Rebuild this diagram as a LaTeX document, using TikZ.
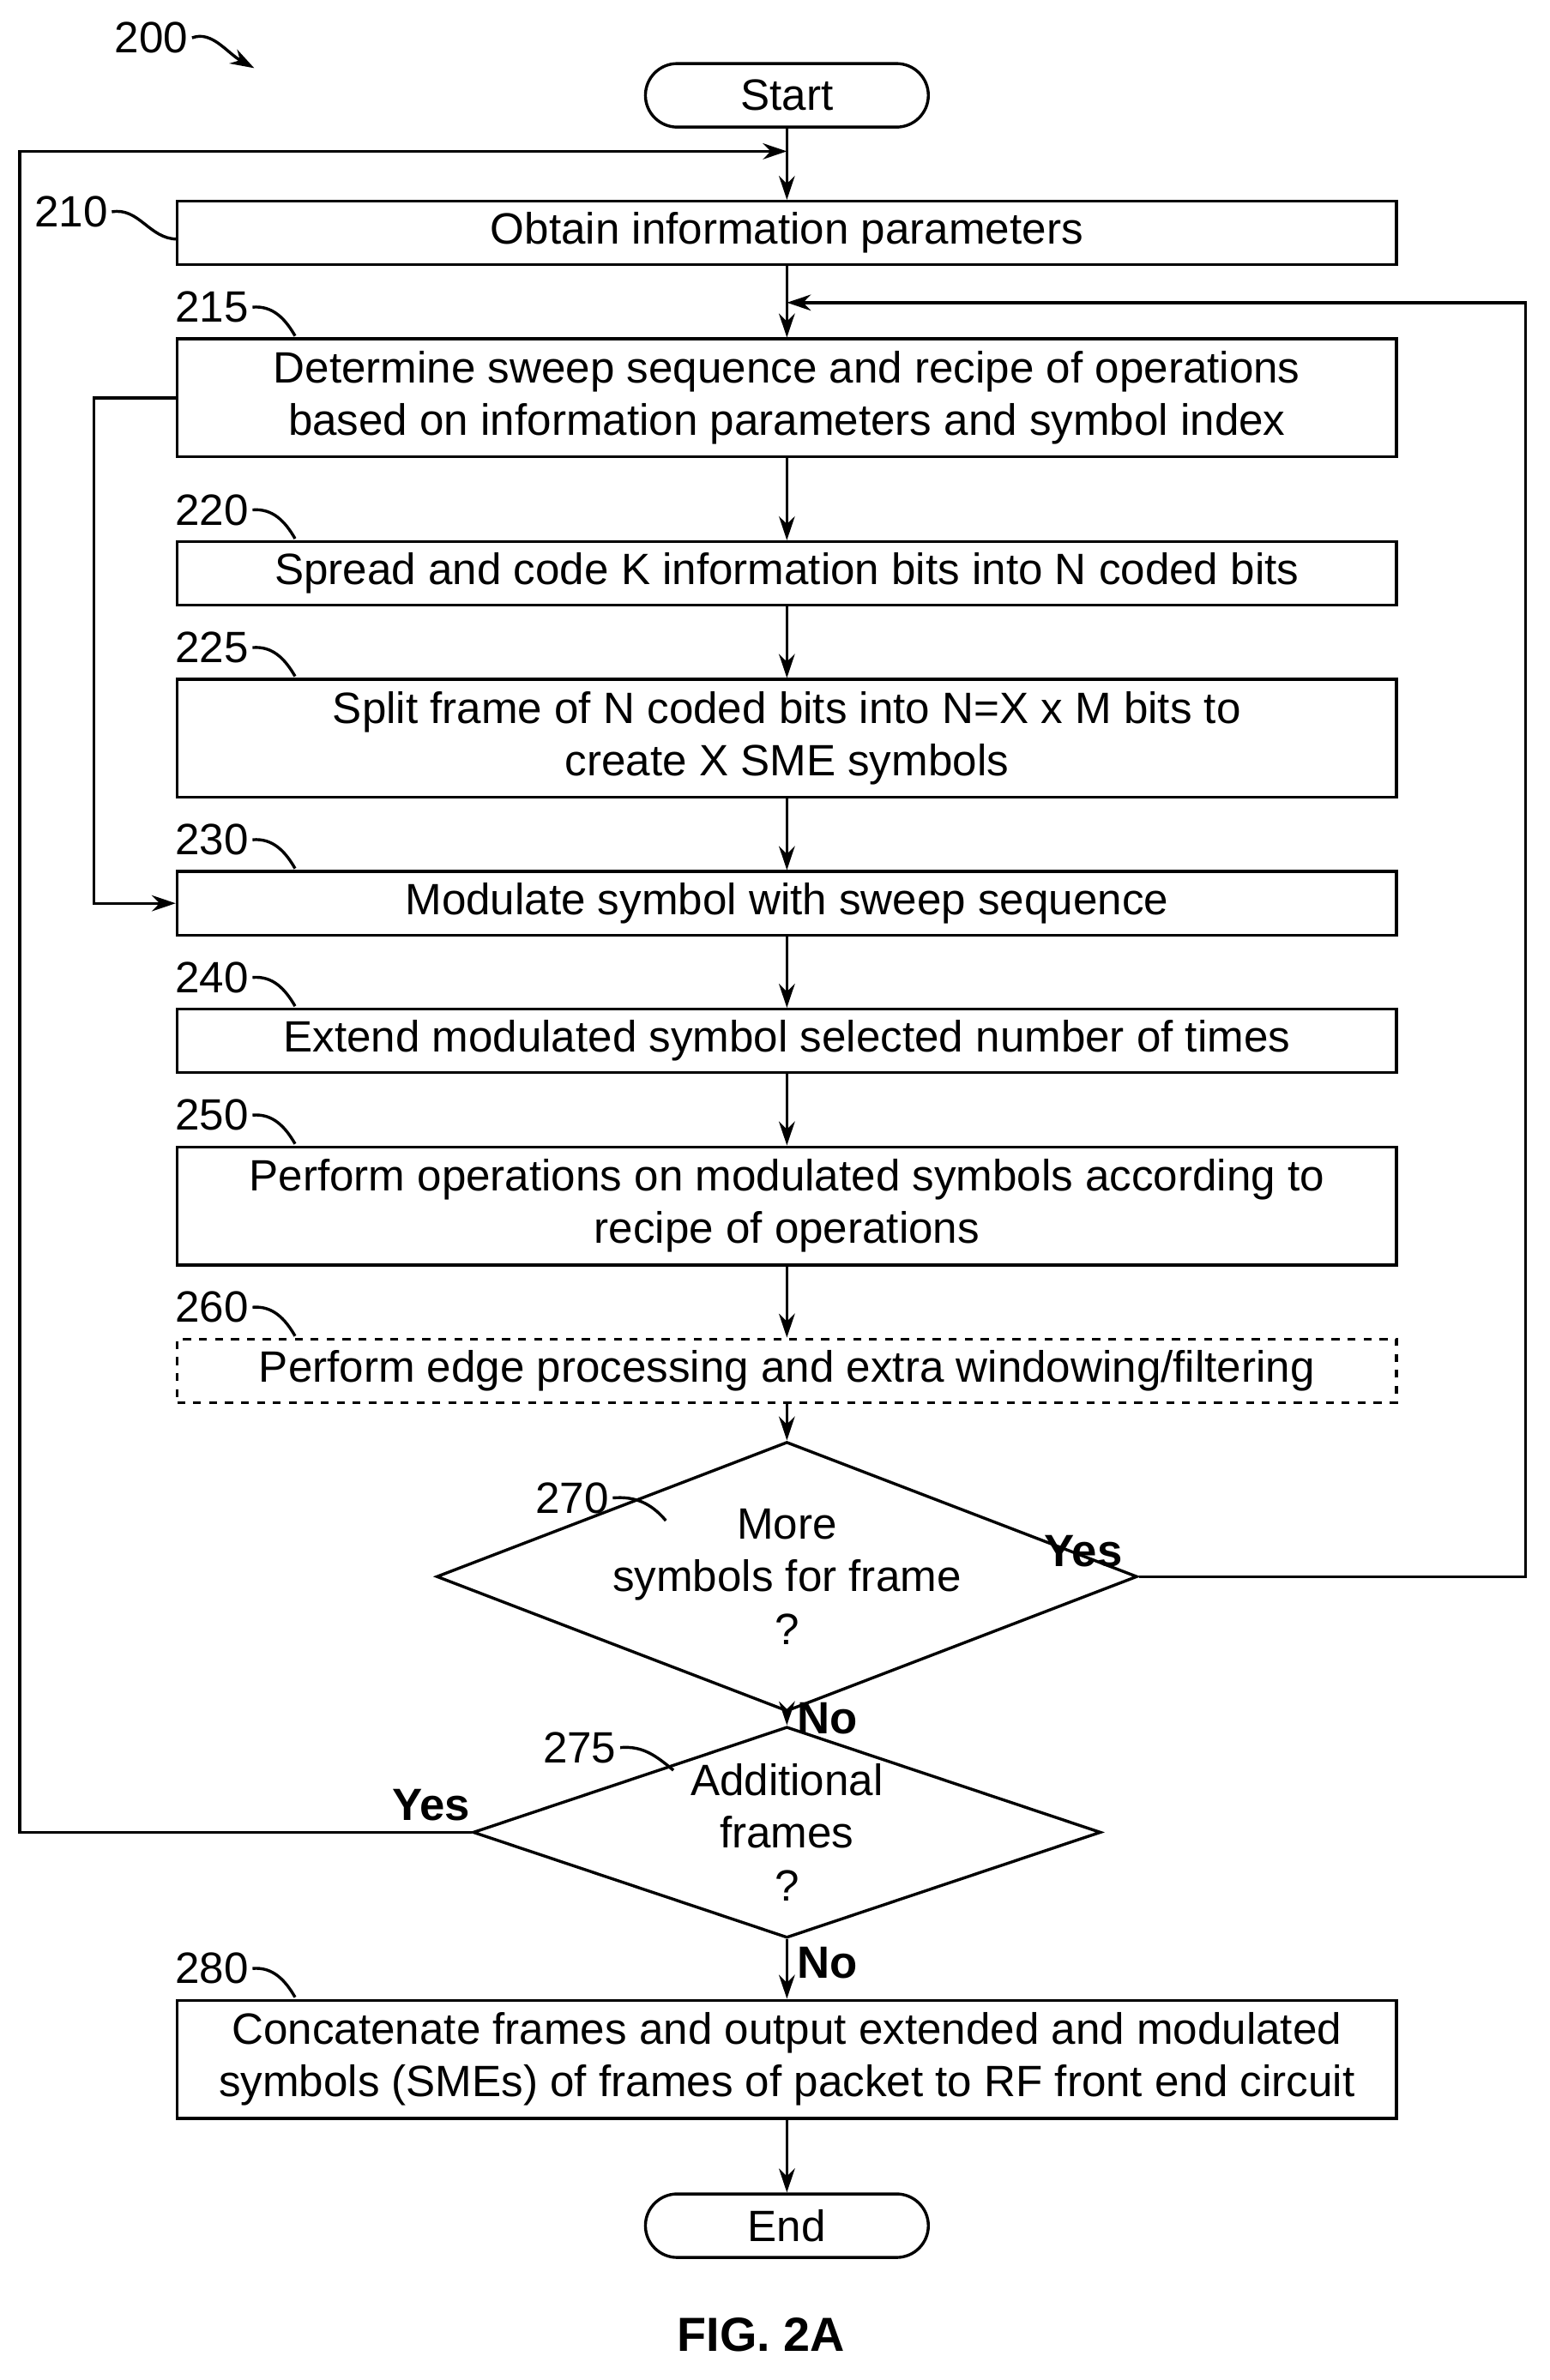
\documentclass[tikz,border=0pt]{standalone}
\usepackage{fontspec}
\setmainfont{Liberation Sans}
\usetikzlibrary{shapes.geometric,arrows.meta}
\begin{document}
\begin{tikzpicture}[x=0.02cm,y=-0.02cm,line width=1.1pt,
 font=\fontsize{16.5}{19.8}\selectfont,
 box/.style={draw,rectangle,minimum width=16.12cm,inner sep=0pt,align=center},
 b1/.style={box,minimum height=0.84cm},
 b2/.style={box,minimum height=1.56cm},
 term/.style={draw,rounded corners=0.42cm,minimum width=3.74cm,minimum height=0.84cm,inner sep=0pt},
 dia/.style={draw,diamond,aspect=2.6,inner sep=0pt,align=center},
 arr/.style={-{Stealth[length=9pt,width=6pt]}},
 lab/.style={inner sep=1pt},
 yn/.style={font=\fontsize{17}{20}\selectfont\bfseries}]
\useasboundingbox (0,0) rectangle (1024,1573);
\node[term] (start) at (520,63) {Start};
\node[b1] (n210) at (520,154) {Obtain information parameters};
\node[b2] (n215) at (520,263) {Determine sweep sequence and recipe of operations\\based on information parameters and symbol index};
\node[b1] (n220) at (520,379) {Spread and code K information bits into N coded bits};
\node[b2] (n225) at (520,488) {Split frame of N coded bits into N=X x M bits to\\create X SME symbols};
\node[b1] (n230) at (520,597) {Modulate symbol with sweep sequence};
\node[b1] (n240) at (520,688) {Extend modulated symbol selected number of times};
\node[b2] (n250) at (520,797) {Perform operations on modulated symbols according to\\recipe of operations};
\node[b1,dashed] (n260) at (520,906) {Perform edge processing and extra windowing/filtering};
\node[dia,minimum width=6.8cm,minimum height=2.58cm] (n270) at (520,1042) {More\\symbols for frame\\?};
\node[dia,minimum width=8.3cm,minimum height=2.52cm] (n275) at (520,1211) {Additional\\frames\\?};
\node[b2] (n280) at (520,1361) {Concatenate frames and output extended and modulated\\symbols (SMEs) of frames of packet to RF front end circuit};
\node[term] (end) at (520,1471) {End};
\node[font=\fontsize{18}{20}\selectfont\bfseries] (fig) at (503,1543) {FIG. 2A};

\coordinate (top1) at (520,100);
\coordinate (top2) at (520,200);
\draw (start) -- (top1);
\draw[arr] (top1) -- (n210);
\draw (n210) -- (top2);
\draw[arr] (top2) -- (n215);
\draw[arr] (n215) -- (n220);
\draw[arr] (n220) -- (n225);
\draw[arr] (n225) -- (n230);
\draw[arr] (n230) -- (n240);
\draw[arr] (n240) -- (n250);
\draw[arr] (n250) -- (n260);
\draw[arr] (n260) -- (n270);
\draw[arr] (n270) -- node[yn,right,pos=0.45]{No} (n275);
\draw[arr] (n275) -- node[yn,right,pos=0.4]{No} (n280);
\draw[arr] (n280) -- (end);
\draw[arr] (n270.east) -- (1008,1042) -- (1008,200) -- (top2);
\draw[arr] (n275.west) -- (13,1211) -- (13,100) -- (top1);
\draw[arr] (n215.west) -- (62,263) -- (62,597) -- (n230.west);
\node[yn] at (716,1025) {Yes};
\node[yn] at (285,1193) {Yes};

\node[lab] (l200) at (100,25) {200};
\draw[arr] (l200.east) .. controls (140,20) and (150,35) .. (168,45);
\node[lab] (l210) at (47,140) {210};
\draw (l210.east) to[out=10,in=180] (117,158);
\foreach \n/\y/\t in {215/203/222,220/337/356,225/428/447,230/555/574,240/646/665,250/737/756,260/864/883,280/1301/1320}{
  \node[lab] (l\n) at (140,\y) {\n};
  \draw (l\n.east) to[out=5,in=120] (195,\t);
}
\node[lab] (l270) at (378,990) {270};
\draw (l270.east) to[out=5,in=130] (440,1005);
\node[lab] (l275) at (383,1155) {275};
\draw (l275.east) to[out=5,in=140] (445,1170);
\end{tikzpicture}
\end{document}
